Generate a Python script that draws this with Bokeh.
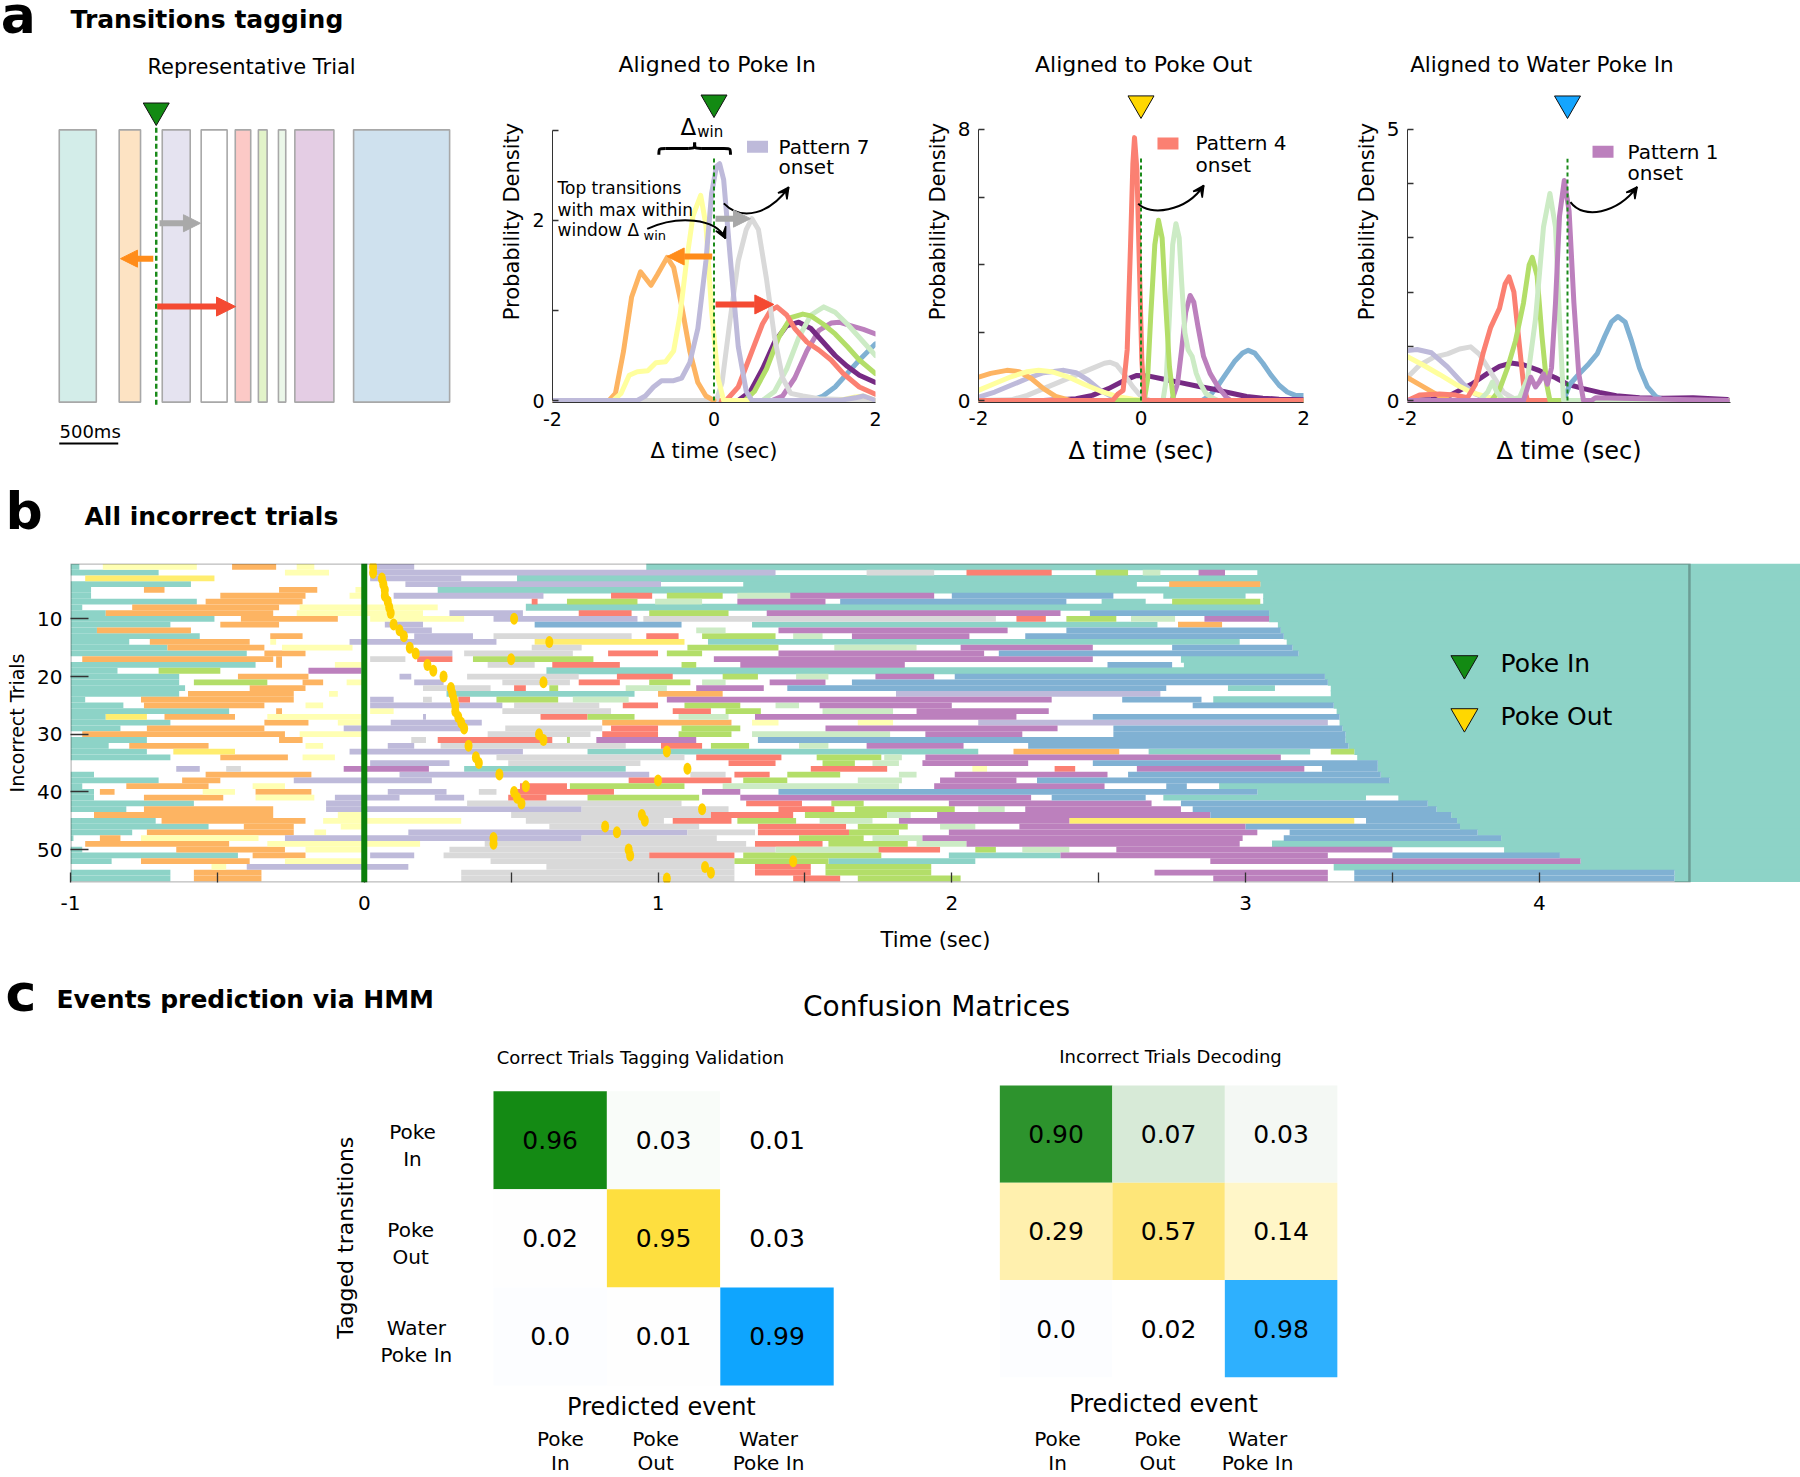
import math
from bokeh.plotting import figure
from bokeh.models import Range1d, FixedTicker, Arrow, NormalHead, VeeHead, Span, BoxAnnotation
from bokeh.layouts import row, column
from bokeh.core.properties import value
from bokeh.embed import file_html
from bokeh.resources import INLINE

FONT = value("DejaVu Sans")

# ======================= DATA =======================
# ---- panel a: representative trial (ms relative to Poke In) ----
rep_pattern_start_ms = [-822, -314, 51, 381, 670, 866, 1036, 1175, 1673]
rep_pattern_end_ms = [-508, -133, 288, 601, 801, 940, 1098, 1506, 2487]
scale_bar_start_ms = -822
scale_bar_ms = 500

# ---- panel a: onset densities, aligned to Poke In (x sec, y density) ----
pin_orange = ([-2.0, -1.30, -1.22, -1.12, -1.02, -0.91, -0.84, -0.78, -0.70, -0.58, -0.50, -0.40, -0.30, -0.20, -0.10, 0.0],
              [0.0, 0.0, 0.08, 0.55, 1.15, 1.43, 1.35, 1.28, 1.40, 1.59, 1.48, 1.05, 0.55, 0.20, 0.05, 0.0])
pin_lyellow = ([-2.0, -1.25, -1.15, -1.05, -0.95, -0.82, -0.72, -0.60, -0.50, -0.42, -0.34, -0.26, -0.165, -0.10, -0.03, 0.05, 0.12, 1.55, 1.75, 1.85, 2.0],
               [0.0, 0.0, 0.08, 0.28, 0.32, 0.33, 0.42, 0.43, 0.55, 0.95, 1.55, 2.05, 2.28, 1.95, 1.0, 0.25, 0.0, 0.0, 0.04, 0.05, 0.0])
pin_lavender = ([-2.0, -0.95, -0.85, -0.75, -0.65, -0.50, -0.40, -0.30, -0.20, -0.10, -0.03, 0.03, 0.07, 0.12, 0.20, 0.30, 0.40, 0.47, 1.55, 1.75, 1.85, 2.0],
                [0.0, 0.0, 0.05, 0.15, 0.22, 0.22, 0.25, 0.42, 0.80, 1.55, 2.30, 2.60, 2.63, 2.45, 1.60, 0.60, 0.10, 0.0, 0.0, 0.03, 0.05, 0.0])
pin_gray = ([-2.0, 0.03, 0.10, 0.20, 0.30, 0.40, 0.47, 0.55, 0.65, 0.75, 0.85, 0.95, 1.10, 1.30, 2.0],
            [0.0, 0.0, 0.20, 0.90, 1.55, 1.90, 2.02, 1.90, 1.35, 0.70, 0.25, 0.08, 0.05, 0.02, 0.0])
pin_salmon = ([-2.0, 0.15, 0.30, 0.45, 0.60, 0.70, 0.78, 0.90, 1.00, 1.15, 1.30, 1.45, 1.60, 1.80, 2.0],
              [0.0, 0.0, 0.15, 0.50, 0.85, 1.00, 1.04, 0.95, 0.80, 0.65, 0.56, 0.45, 0.30, 0.15, 0.07])
pin_dpurple = ([-2.0, 0.30, 0.45, 0.60, 0.75, 0.90, 1.05, 1.20, 1.35, 1.50, 1.65, 1.80, 2.0],
               [0.0, 0.0, 0.10, 0.35, 0.65, 0.83, 0.87, 0.80, 0.65, 0.50, 0.38, 0.28, 0.20])
pin_green = ([-2.0, 0.38, 0.50, 0.65, 0.80, 0.95, 1.10, 1.20, 1.35, 1.50, 1.65, 1.80, 2.0],
             [0.0, 0.0, 0.10, 0.35, 0.70, 0.92, 0.96, 0.94, 0.85, 0.74, 0.60, 0.45, 0.30])
pin_lgreen = ([-2.0, 0.60, 0.75, 0.90, 1.05, 1.20, 1.36, 1.50, 1.65, 1.80, 2.0],
              [0.0, 0.0, 0.10, 0.35, 0.70, 0.95, 1.04, 0.98, 0.85, 0.70, 0.50])
pin_purple = ([-2.0, 0.72, 0.85, 1.00, 1.15, 1.30, 1.45, 1.55, 1.70, 1.85, 2.0],
              [0.0, 0.0, 0.05, 0.25, 0.55, 0.78, 0.86, 0.87, 0.83, 0.79, 0.74])
pin_blue = ([-2.0, 1.20, 1.35, 1.50, 1.65, 1.80, 2.0],
            [0.0, 0.0, 0.05, 0.15, 0.30, 0.45, 0.63])

# ---- aligned to Poke Out ----
pout_salmon = ([-2.0, -0.35, -0.28, -0.22, -0.17, -0.13, -0.10, -0.08, -0.05, -0.02, 0.01, 0.04, 2.0],
               [0.0, 0.0, 0.2, 0.3, 1.5, 4.5, 7.0, 7.76, 6.8, 4.0, 1.2, 0.0, 0.0])
pout_green = ([-2.0, 0.04, 0.08, 0.12, 0.17, 0.215, 0.26, 0.30, 0.35, 0.40, 2.0],
              [0.0, 0.0, 0.6, 2.5, 4.6, 5.32, 4.8, 3.0, 1.0, 0.0, 0.0])
pout_lgreen = ([-2.0, 0.27, 0.31, 0.35, 0.39, 0.43, 0.47, 0.50, 0.54, 0.58, 0.63, 0.68, 0.73, 0.80, 0.90, 0.95, 2.0],
               [0.0, 0.0, 0.6, 2.5, 4.6, 5.22, 4.8, 3.5, 2.0, 1.5, 1.3, 0.8, 0.5, 0.2, 0.05, 0.0, 0.0])
pout_purple = ([-2.0, 0.38, 0.45, 0.50, 0.55, 0.605, 0.65, 0.70, 0.77, 0.85, 0.95, 1.05, 1.10, 2.0],
               [0.0, 0.0, 0.5, 1.5, 2.6, 3.1, 2.9, 2.2, 1.3, 0.8, 0.4, 0.1, 0.0, 0.0])
pout_blue = ([-2.0, 0.75, 0.85, 0.95, 1.05, 1.15, 1.25, 1.32, 1.40, 1.50, 1.60, 1.70, 1.80, 1.90, 2.0],
             [0.0, 0.0, 0.15, 0.45, 0.80, 1.15, 1.40, 1.48, 1.40, 1.10, 0.75, 0.45, 0.25, 0.15, 0.15])
pout_dpurple = ([-2.0, -1.2, -1.0, -0.8, -0.6, -0.4, -0.2, -0.05, 0.1, 0.3, 0.5, 0.7, 0.9, 1.1, 1.3, 1.5, 1.7, 2.0],
                [0.0, 0.0, 0.02, 0.05, 0.15, 0.35, 0.60, 0.74, 0.72, 0.62, 0.52, 0.42, 0.33, 0.22, 0.12, 0.07, 0.04, 0.02])
pout_gray = ([-2.0, -1.6, -1.4, -1.2, -1.0, -0.8, -0.6, -0.45, -0.38, -0.30, -0.20, -0.10, 0.0, 0.11, 2.0],
             [0.0, 0.02, 0.15, 0.35, 0.55, 0.75, 0.95, 1.10, 1.13, 1.05, 0.75, 0.40, 0.12, 0.0, 0.0])
pout_lavender = ([-2.0, -1.8, -1.6, -1.4, -1.2, -0.95, -0.8, -0.65, -0.5, -0.35, -0.22, 2.0],
                 [0.10, 0.25, 0.45, 0.65, 0.82, 0.89, 0.82, 0.60, 0.30, 0.10, 0.0, 0.0])
pout_orange = ([-2.0, -1.85, -1.65, -1.5, -1.35, -1.2, -1.05, -0.87, 2.0],
               [0.69, 0.80, 0.89, 0.85, 0.65, 0.35, 0.12, 0.0, 0.0])
pout_lyellow = ([-2.0, -1.8, -1.6, -1.4, -1.26, -1.1, -0.9, -0.7, -0.5, -0.3, -0.1, 0.03, 2.0],
                [0.30, 0.50, 0.70, 0.85, 0.89, 0.85, 0.70, 0.48, 0.28, 0.12, 0.04, 0.0, 0.0])

# ---- aligned to Water Poke In ----
wat_purple = ([-2.0, -0.55, -0.46, -0.40, -0.35, -0.30, -0.25, -0.20, -0.15, -0.10, -0.04, 0.02, 0.08, 0.14, 0.20, 0.30, 0.35, 2.0],
              [0.0, 0.0, 0.43, 0.25, 0.35, 0.49, 0.30, 0.60, 1.80, 3.40, 4.06, 3.50, 1.80, 0.50, 0.0, 0.0, 0.05, 0.0])
wat_lgreen = ([-2.0, -1.10, -1.00, -0.94, -0.88, -0.80, -0.60, -0.50, -0.40, -0.30, -0.22, -0.15, -0.10, -0.05, 2.0],
              [0.0, 0.0, 0.15, 0.34, 0.15, 0.0, 0.05, 0.40, 1.50, 3.20, 3.82, 3.20, 1.50, 0.0, 0.0])
wat_green = ([-2.0, -0.95, -0.85, -0.75, -0.65, -0.55, -0.48, -0.44, -0.38, -0.32, -0.26, -0.22, 2.0],
             [0.0, 0.0, 0.20, 0.60, 1.10, 1.80, 2.50, 2.64, 2.30, 1.20, 0.30, 0.0, 0.0])
wat_salmon = ([-2.0, -1.85, -1.6, -1.4, -1.25, -1.15, -1.05, -0.96, -0.85, -0.78, -0.73, -0.67, -0.60, -0.55, -0.50, 2.0],
              [0.0, 0.10, 0.12, 0.10, 0.05, 0.30, 0.90, 1.35, 1.70, 2.15, 2.28, 2.00, 1.00, 0.30, 0.0, 0.0])
wat_blue = ([-2.0, -0.05, 0.03, 0.15, 0.25, 0.37, 0.47, 0.55, 0.63, 0.72, 0.80, 0.90, 1.00, 1.10, 1.20, 2.0],
            [0.0, 0.0, 0.30, 0.50, 0.65, 0.86, 1.20, 1.45, 1.55, 1.45, 1.10, 0.60, 0.25, 0.08, 0.0, 0.0])
wat_dpurple = ([-2.0, -1.7, -1.46, -1.2, -1.0, -0.85, -0.71, -0.55, -0.35, -0.15, 0.0, 0.2, 0.4, 0.61, 0.9, 1.2, 1.57, 2.0],
               [0.0, 0.02, 0.10, 0.30, 0.50, 0.63, 0.69, 0.66, 0.55, 0.42, 0.30, 0.22, 0.15, 0.09, 0.05, 0.04, 0.05, 0.02])
wat_gray = ([-2.0, -1.85, -1.67, -1.5, -1.35, -1.21, -1.1, -0.95, -0.8, -0.63, 2.0],
            [0.43, 0.65, 0.80, 0.86, 0.95, 0.99, 0.85, 0.50, 0.15, 0.0, 0.0])
wat_lavender = ([-2.0, -1.88, -1.7, -1.5, -1.3, -1.15, -0.96, 2.0],
                [0.92, 0.94, 0.88, 0.62, 0.30, 0.12, 0.0, 0.0])
wat_lyellow = ([-2.0, -1.8, -1.6, -1.4, -1.2, -1.0, -0.8, -0.7, 2.0],
               [0.81, 0.65, 0.48, 0.30, 0.15, 0.06, 0.01, 0.0, 0.0])
wat_orange = ([-2.0, -1.8, -1.6, -1.46, 2.0],
              [0.42, 0.25, 0.08, 0.0, 0.0])

# ---- panel b: HMM pattern segments per incorrect trial: (trial, start s, end s) ----
trials = list(range(1, 56))
teal_segs = [(1,-1.0,-0.97),(2,-1.0,-0.70),(4,-1.0,-0.59),(4,1.29,2.63),(5,-1.0,-0.93),(6,-1.0,-0.93),(6,2.72,3.00),
             (7,-1.0,-0.57),(7,2.51,2.66),(8,-1.0,-0.96),(9,-1.0,-0.88),(10,-1.0,-0.51),(11,-1.0,-0.66),(11,1.32,2.70),
             (12,-1.0,-0.91),(13,-1.0,-0.56),(14,-1.0,-0.80),(14,1.17,2.98),(15,-1.0,-0.67),(16,-1.0,-0.40),(18,-1.0,-0.37),
             (19,-1.0,-0.84),(20,-1.0,-0.63),(21,-1.0,-0.63),(22,-1.0,-0.61),(22,2.94,3.10),(23,-1.0,-0.63),(23,0.28,0.92),
             (24,-1.0,-0.95),(25,-1.0,-0.82),(26,-1.0,-0.46),(27,-1.0,-0.88),(28,-1.0,-0.66),(29,-1.0,-0.83),(31,-1.0,-0.74),
             (32,-1.0,-0.87),(33,-1.0,-0.74),(33,0.76,2.09),(33,2.67,3.22),(34,-1.0,-0.66),(36,0.34,0.89),(37,-1.0,-0.92),
             (38,-1.0,-0.70),(39,-1.0,-0.96),(40,-1.0,-0.92),(41,-1.0,-0.92),(41,2.72,3.41),(42,-1.0,-0.58),(43,-1.0,-0.81),
             (45,-1.0,-0.71),(46,-1.0,-0.53),(47,-1.0,-0.79),(48,-1.0,-0.99),(50,-1.0,-0.96),(51,-1.0,-0.43),(51,1.99,2.37),
             (52,-1.0,-0.86),(52,1.58,2.08),(54,-1.0,-0.66),(55,-1.0,-0.66)]
orange_segs = [(1,-0.45,-0.30),(4,2.74,3.05),(5,-0.75,-0.68),(5,-0.29,-0.16),(6,-0.49,-0.20),(7,-0.54,-0.21),(8,-0.79,-0.29),
               (9,-0.88,-0.31),(10,-0.42,-0.09),(11,-0.49,-0.29),(11,2.77,2.92),(12,-0.91,-0.59),(13,-0.32,-0.21),
               (14,-0.73,-0.39),(15,-0.67,-0.34),(16,-0.34,-0.20),(17,-0.96,-0.31),(17,-0.30,-0.28),(18,-0.30,-0.28),
               (20,-0.43,-0.19),(21,-0.21,-0.14),(22,-0.39,-0.20),(23,-0.60,-0.24),(23,1.00,1.22),(24,-0.76,-0.24),
               (25,-0.75,-0.34),(26,-0.30,-0.28),(27,-0.68,-0.44),(28,-0.34,-0.19),(28,0.81,1.25),(29,-0.74,-0.34),
               (30,-0.96,-0.27),(31,-0.29,-0.21),(32,-0.80,-0.53),(33,2.21,2.57),(34,-0.49,-0.26),(37,-0.54,-0.18),
               (38,-0.62,-0.49),(39,-0.81,-0.53),(40,-0.90,-0.85),(40,-0.37,-0.18),(41,-0.75,-0.48),(43,-0.75,-0.31),
               (44,-0.92,-0.31),(45,-0.69,-0.20),(46,-0.41,-0.24),(47,-0.74,-0.24),(48,-0.90,-0.83),(49,-0.95,-0.46),
               (50,-0.64,-0.27),(51,-0.38,-0.20),(52,-0.76,-0.39),(54,-0.58,-0.35),(55,-0.58,-0.35)]
lyellow_segs = [(1,-0.89,-0.57),(1,-0.23,-0.17),(2,-0.27,-0.12),(5,-0.03,0.0),(6,-0.05,0.0),(8,-0.22,0.25),(9,-0.23,0.20),
                (10,0.02,0.34),(14,-0.32,-0.30),(15,-0.28,-0.04),(18,-0.10,-0.01),(21,-0.06,0.0),(23,-0.12,-0.09),
                (25,-0.20,-0.14),(26,0.02,0.10),(27,-0.33,-0.01),(28,-0.09,-0.01),(28,1.32,1.41),(28,1.68,1.80),
                (30,-0.22,-0.01),(32,-0.20,-0.14),(34,-0.21,-0.10),(36,2.07,2.12),(39,-0.38,-0.27),(40,-0.55,-0.44),
                (41,-0.37,-0.17),(44,-0.09,-0.01),(45,-0.14,0.33),(46,-0.08,0.0),(47,-0.17,-0.13),(48,-0.76,-0.36),
                (49,-0.33,0.19),(50,-0.20,0.0),(52,-0.27,-0.01),(53,-0.52,-0.47)]
yellow_segs = [(3,-0.95,-0.51),(14,0.58,1.09),(27,-0.88,-0.74),(33,-0.65,-0.44),(45,2.40,3.37)]
lavender_segs = [(1,0.02,0.17),(2,0.02,1.40),(3,0.02,0.33),(4,0.14,1.01),(6,0.10,0.61),(9,0.29,0.54),(10,0.44,0.93),
                 (11,0.07,0.20),(12,0.12,0.23),(13,0.17,0.37),(14,-0.05,0.45),(16,0.18,0.30),(20,0.12,0.16),(21,0.17,0.27),
                 (23,1.81,2.71),(24,0.02,0.10),(25,0.02,0.47),(27,0.20,0.21),(28,0.09,0.40),(28,2.09,3.28),(29,-0.07,0.34),
                 (32,0.08,0.17),(33,-0.05,0.54),(35,0.02,0.29),(36,-0.64,-0.56),(37,0.12,0.97),(38,-0.24,0.23),(40,0.08,0.28),
                 (41,-0.10,0.12),(41,0.24,0.34),(42,-0.13,0.0),(43,-0.13,0.74),(47,0.15,1.10),(48,-0.27,0.74),(51,0.02,0.17),
                 (53,-0.40,0.15)]
gray_segs = [(2,1.71,1.94),(10,0.95,2.15),(13,0.44,0.91),(15,0.57,0.74),(16,0.34,0.71),(17,0.02,0.14),(18,0.42,0.58),
             (20,0.35,0.73),(21,0.47,0.70),(22,0.20,0.43),(24,0.20,0.23),(25,0.51,0.80),(26,0.47,0.84),(29,0.48,0.81),
             (30,0.42,0.77),(31,0.16,0.21),(32,0.26,0.89),(34,0.45,1.09),(35,0.49,0.94),(36,-0.47,-0.42),(37,1.11,1.23),
             (40,0.39,0.45),(42,0.35,1.08),(43,0.74,1.24),(44,0.50,1.18),(45,0.55,1.02),(46,0.63,1.14),(47,1.10,1.33),
             (48,0.74,1.20),(49,0.41,1.30),(50,0.29,1.40),(51,0.27,0.97),(52,0.43,1.26),(53,0.62,1.26),(54,0.33,1.26),
             (55,0.33,1.26)]
salmon_segs = [(2,2.05,2.34),(6,0.84,0.98),(7,0.57,0.59),(9,0.73,0.91),(10,2.22,2.32),(13,0.96,1.07),(16,0.83,1.00),
               (17,0.18,0.30),(18,0.64,0.87),(20,0.86,1.05),(21,0.73,0.87),(22,0.51,0.55),(24,0.32,0.36),(25,0.88,1.00),
               (26,1.05,1.18),(27,0.60,0.76),(29,0.84,1.00),(30,0.81,1.00),(31,0.25,0.64),(32,1.01,1.15),(34,1.13,1.42),
               (35,1.24,1.40),(36,1.52,1.78),(36,2.35,2.42),(37,1.26,1.38),(38,0.90,1.25),(39,0.53,0.69),(40,0.51,0.85),
               (41,0.49,0.62),(42,1.30,1.49),(43,1.41,1.60),(44,1.18,1.46),(45,1.05,1.25),(46,1.34,1.64),(47,1.34,1.65),
               (49,1.33,1.56),(50,1.75,1.96),(51,0.97,1.26),(53,1.33,1.52),(54,1.33,1.52),(55,1.46,1.62)]
green_segs = [(2,2.49,2.60),(6,1.03,1.22),(7,0.69,0.93),(7,2.75,3.05),(9,0.97,1.24),(10,2.39,2.56),(13,1.15,1.40),
              (15,1.10,1.41),(16,1.03,1.15),(17,0.37,0.78),(18,1.08,1.13),(19,-0.70,-0.49),(20,1.22,1.34),(21,-0.58,-0.33),
              (21,0.97,1.11),(22,0.63,0.66),(24,0.45,0.66),(25,1.09,1.28),(26,1.23,1.35),(27,0.76,0.92),(29,1.08,1.28),
              (30,1.07,1.25),(31,0.69,0.70),(32,1.18,1.31),(33,3.29,3.37),(34,1.54,1.76),(35,1.56,1.67),(37,1.44,1.62),
              (38,1.29,1.44),(39,0.70,1.09),(41,0.76,1.14),(42,1.59,1.70),(43,1.67,2.01),(44,1.50,1.78),(45,1.27,1.47),
              (46,1.68,1.85),(47,1.65,1.82),(48,1.48,1.70),(49,1.58,1.85),(50,2.08,2.15),(51,1.29,1.76),(52,1.26,1.58),
              (53,1.57,1.93),(54,1.57,1.93),(55,1.68,2.03)]
lgreen_segs = [(2,2.65,2.71),(6,1.27,1.45),(7,0.99,1.15),(10,2.61,2.76),(12,1.13,1.23),(13,1.46,1.56),(15,1.60,1.88),
               (20,1.47,1.58),(21,1.15,1.23),(22,0.89,1.03),(24,0.71,0.90),(25,1.40,1.48),(26,1.56,1.80),(27,1.07,1.24),
               (30,1.32,1.79),(32,1.48,1.58),(34,1.77,1.83),(35,1.73,1.82),(37,1.82,1.88),(38,1.68,1.83),(39,1.22,1.82),
               (43,2.09,2.18),(44,1.78,1.86),(45,1.55,1.73),(46,1.96,2.08),(48,1.73,1.90),(49,1.88,2.05),(50,1.40,1.75),
               (50,2.24,2.40)]
purple_segs = [(2,2.84,2.93),(6,1.45,1.94),(7,1.27,1.57),(9,1.37,2.37),(10,2.86,3.08),(12,1.41,2.19),(13,1.66,2.06),
               (15,2.03,2.48),(16,1.41,2.11),(17,1.19,2.48),(18,1.28,1.84),(19,-0.19,-0.01),(20,1.74,1.94),(21,1.38,1.57),
               (22,1.13,1.36),(24,1.03,2.34),(25,1.55,2.00),(26,1.88,2.33),(27,1.33,2.22),(29,1.57,2.36),(30,1.91,2.24),
               (31,0.79,1.13),(32,1.71,2.04),(34,1.91,3.12),(35,1.90,2.26),(36,-0.07,0.22),(36,2.63,3.20),(37,2.01,2.53),
               (38,1.96,2.22),(39,1.94,2.52),(40,1.15,1.28),(41,1.28,2.27),(42,1.99,2.68),(43,2.25,2.78),(44,1.95,2.88),
               (45,1.82,2.40),(46,2.23,3.00),(47,1.99,3.04),(48,1.90,2.99),(49,2.05,2.98),(50,2.56,3.50),(51,2.37,3.28),
               (52,2.88,4.14),(54,2.69,3.28),(55,2.89,3.28)]
blue_segs = [(6,2.00,2.55),(7,1.62,2.39),(9,2.47,3.08),(11,0.58,1.08),(12,2.39,3.12),(13,2.25,3.13),(15,2.75,3.16),
             (16,2.16,3.18),(18,2.53,2.75),(20,2.01,3.27),(21,1.66,3.28),(22,1.44,2.73),(24,2.58,2.85),(25,2.82,3.30),
             (27,2.48,3.32),(29,2.55,3.33),(30,2.55,3.34),(31,1.34,3.34),(32,2.26,3.35),(35,2.48,3.45),(36,3.26,3.45),
             (37,2.60,3.46),(38,2.29,3.49),(39,2.73,2.80),(40,1.41,3.04),(41,2.34,2.66),(42,2.78,3.62),(43,2.82,3.65),
             (44,2.88,3.70),(45,3.41,3.72),(46,3.00,3.73),(47,3.15,3.79),(48,3.13,3.87),(51,3.50,4.07),(54,3.37,4.46),
             (55,3.37,4.46)]
trial_end_s = [0.96, 3.04, 0.52, 3.05, 0.25, 3.06, 3.06, 0.55, 3.08, 3.08, 3.11, 3.12, 3.13, 3.14, 3.16, 3.18, 2.78,
               2.79, 0.62, 3.27, 3.28, 3.29, 3.29, 2.89, 3.30, 3.31, 3.32, 3.32, 3.33, 3.34, 3.34, 3.35, 3.37, 3.38,
               3.45, 3.45, 3.46, 3.49, 2.91, 3.04, 3.52, 3.62, 3.65, 3.70, 3.72, 3.73, 3.79, 3.87, 3.09, 3.88, 4.07,
               4.14, 3.30, 4.46, 4.46]
poke_out_s = [0.03, 0.03, 0.06, 0.065, 0.07, 0.07, 0.08, 0.085, 0.09, 0.51, 0.10, 0.12, 0.135, 0.63, 0.155, 0.175,
              0.50, 0.215, 0.235, 0.27, 0.61, 0.295, 0.30, 0.305, 0.31, 0.31, 0.32, 0.33, 0.34, 0.595, 0.61, 0.355,
              1.03, 0.38, 0.39, 1.10, 0.46, 1.00, 0.55, 0.51, 0.52, 0.535, 1.15, 0.945, 0.955, 0.82, 0.86, 0.44,
              0.44, 0.90, 0.905, 1.46, 1.16, 1.18, 1.03]
raster_xticks = [-1, 0, 1, 2, 3, 4]
raster_xminor = [-0.5, 0.5, 1.5, 2.5, 3.5]
raster_yticks = [10, 20, 30, 40, 50]

# ---- panel c: confusion matrices ----
event_names = ["Poke In", "Poke Out", "Water Poke In"]
correct_cm = [[0.96, 0.03, 0.01], [0.02, 0.95, 0.03], [0.0, 0.01, 0.99]]
incorrect_cm = [[0.90, 0.07, 0.03], [0.29, 0.57, 0.14], [0.0, 0.02, 0.98]]

# ======================= STYLES =======================
TEAL = "#8dd3c7"; LYEL = "#ffffb3"; LAV = "#bebada"; SAL = "#fb8072"; BLUE = "#80b1d3"
ORA = "#fdb462"; GRN = "#b3de69"; GRAY = "#d9d9d9"; PUR = "#bc80bd"; LGRN = "#ccebc5"
YEL = "#ffed6f"; DPUR = "#762a83"; LINE_YEL = "#ffff9e"
rep_fill = ["#d3ede9", "#fde3c3", "#e5e3f0", "#ffffff", "#fcc9c6", "#e2f3c9", "#ebf7e9", "#e4cde4", "#cfe1ee"]
correct_colors = [["#148a14", "#f9fcf9", "#ffffff"], ["#fefefe", "#fedf3f", "#ffffff"], ["#fcfdff", "#fefefe", "#0fa5fe"]]
incorrect_colors = [["#2d932d", "#d7ead7", "#f4f8f4"], ["#fff0ae", "#fee679", "#fff6c8"], ["#fcfdff", "#ffffff", "#2eb0fe"]]


def txt(p, x, y, s, size, align="left", style="normal", angle=0.0):
    p.text(x=[x], y=[y], text=[s], text_font=FONT, text_font_size=f"{size}px", text_align=align,
           text_baseline="middle", text_font_style=style, angle=angle, text_color="black")


def blank_fig(w, h, xr, yr):
    p = figure(width=w, height=h, x_range=Range1d(*xr), y_range=Range1d(*yr), x_axis_location=None,
               y_axis_location=None, output_backend="svg", toolbar_location=None, min_border=0)
    p.grid.visible = False
    p.outline_line_color = None
    p.background_fill_color = "white"
    p.border_fill_color = "white"
    return p


def style_axis(ax, ticks, minor, tick_in, font_px, label_px, standoff, label_standoff, bounds=None, line=True,
               overrides=None):
    ax.ticker = FixedTicker(ticks=ticks, minor_ticks=minor)
    ax.major_tick_in = tick_in; ax.major_tick_out = 0
    ax.minor_tick_in = tick_in; ax.minor_tick_out = 0
    ax.major_label_text_font = "DejaVu Sans"; ax.major_label_text_font_size = f"{font_px}px"
    ax.axis_label_text_font = "DejaVu Sans"; ax.axis_label_text_font_size = f"{label_px}px"
    ax.axis_label_text_font_style = "normal"
    ax.major_label_standoff = standoff; ax.axis_label_standoff = label_standoff
    ax.axis_line_color = "#333333" if line else None
    ax.major_tick_line_color = "#333333"; ax.minor_tick_line_color = "#333333"
    ax.major_tick_line_width = 1.3; ax.minor_tick_line_width = 1.3
    ax.major_label_text_color = "black"; ax.axis_label_text_color = "black"
    if overrides:
        ax.major_label_overrides = overrides
    if bounds is not None:
        ax.bounds = bounds


def curved_arrow(p, x0, y0, cx0, cy0, cx1, cy1, x1, y1):
    p.bezier(x0=[x0], y0=[y0], x1=[x1], y1=[y1], cx0=[cx0], cy0=[cy0], cx1=[cx1], cy1=[cy1],
             line_color="black", line_width=2)
    hx = x1 - 0.05 * (x1 - cx1); hy = y1 - 0.05 * (y1 - cy1)
    p.add_layout(Arrow(end=VeeHead(size=11, fill_color="black", line_color="black", line_width=1.5),
                       x_start=hx, y_start=hy, x_end=x1, y_end=y1, line_color="black", line_width=2))


def block_arrow(p, xs, xe, y, col, size, lw):
    p.add_layout(Arrow(end=NormalHead(size=size, fill_color=col, line_color=col),
                       x_start=xs, y_start=y, x_end=xe, y_end=y, line_color=col, line_width=lw))


def kde_fig(width, left, right, xr, yr, xticks, yticks, yminor, tick_px, xlab_px, ybounds, xstand, xlabstand):
    p = figure(width=width, height=470, x_range=Range1d(*xr), y_range=Range1d(*yr),
               output_backend="svg", toolbar_location=None, min_border_left=left, min_border_right=right,
               min_border_top=40, min_border_bottom=68, x_axis_label="Δ time (sec)",
               y_axis_label="Probability Density")
    p.grid.visible = False
    p.outline_line_color = None
    style_axis(p.xaxis[0], xticks, [], 0, tick_px, xlab_px, xstand, xlabstand, bounds=(xr[0], xr[1]),
               overrides={-2: "-2"})
    style_axis(p.yaxis[0], yticks, yminor, 6, tick_px, 21, 8, 5, bounds=ybounds)
    return p


def draw_curves(p, items):
    for (xs, ys), col in items:
        p.line(xs, ys, line_color=col, line_width=5, line_join="round", line_cap="round")


# ======================= PANEL a =======================
rep = blank_fig(470, 470, (-1320, 2664), (-0.251, 1.475))
rep.quad(left=rep_pattern_start_ms, right=rep_pattern_end_ms, bottom=0, top=1, fill_color=rep_fill,
         line_color="#a8a8a8", line_width=1.6)
rep.segment(x0=[0], y0=[-0.01], x1=[0], y1=[1.01], line_color="#1a8a1a", line_width=2.5, line_dash="5 3")
rep.scatter(x=[0], y=[1.071], marker="inverted_triangle", size=26, fill_color="#138a13", line_color="#111111",
            line_width=1)
block_arrow(rep, 28, 375, 0.657, "#a9a9a9", 17, 6)
block_arrow(rep, -25, -303, 0.527, "#ff8c1a", 17, 6)
block_arrow(rep, 8, 672, 0.351, "#f44a32", 19, 6)
rep.segment(x0=[scale_bar_start_ms], y0=[-0.152], x1=[scale_bar_start_ms + scale_bar_ms], y1=[-0.152],
            line_color="black", line_width=2)
txt(rep, -820, -0.108, "500ms", 18)
txt(rep, -1318, 1.423, "a", 52, style="bold")          # page y 14
txt(rep, -726, 1.405, "Transitions tagging", 25, style="bold")   # page y 19
txt(rep, 808, 1.232, "Representative Trial", 21, align="center")

# -- aligned to Poke In --
pin = kde_fig(440, 82, 35, (-2, 2), (-0.022, 3.999), [-2, 0, 2], [0, 2], [1, 3], 19, 21, (0, 3), 9, 10)
draw_curves(pin, [(pin_blue, BLUE), (pin_purple, PUR), (pin_dpurple, DPUR), (pin_lgreen, LGRN), (pin_green, GRN),
                  (pin_salmon, SAL), (pin_gray, GRAY), (pin_orange, ORA), (pin_lyellow, LINE_YEL),
                  (pin_lavender, LAV)])
pin.segment(x0=[0], y0=[0], x1=[0], y1=[2.72], line_color="#1a8a1a", line_width=2, line_dash="4 3")
txt(pin, 0.04, 3.73, "Aligned to Poke In", 22, align="center")
pin.scatter(x=[0], y=[3.31], marker="inverted_triangle", size=26, fill_color="#138a13", line_color="#111111",
            line_width=1)
txt(pin, -0.316, 3.04, "Δ", 23, align="center")
txt(pin, -0.208, 2.98, "win", 15)
# brace over the window
bx0, bxm, bx1, byb, byh, byt = -0.683, -0.24, 0.204, 2.73, 2.80, 2.865
pin.bezier(x0=[bx0, bxm - 0.08, bxm + 0.08, bx1], y0=[byb, byh, byh, byb],
           x1=[bx0 + 0.08, bxm, bxm, bx1 - 0.08], y1=[byh, byt, byt, byh],
           cx0=[bx0, bxm, bxm, bx1], cy0=[byh, byh, byh, byh],
           cx1=[bx0, bxm, bxm, bx1], cy1=[byh, byh, byh, byh], line_color="black", line_width=3)
pin.multi_line(xs=[[bx0 + 0.08, bxm - 0.08], [bxm + 0.08, bx1 - 0.08]], ys=[[byh, byh], [byh, byh]],
               line_color="black", line_width=3)
pin.rect(x=[0.539], y=[2.82], width=21, height=12, width_units="screen", height_units="screen",
         fill_color=LAV, line_color=None)
txt(pin, 0.799, 2.82, "Pattern 7", 20)
txt(pin, 0.799, 2.59, "onset", 20)
txt(pin, -1.938, 2.356, "Top transitions", 17)
txt(pin, -1.938, 2.111, "with max within", 17)
txt(pin, -1.938, 1.889, "window Δ", 17)
txt(pin, -0.873, 1.833, "win", 13)
block_arrow(pin, 0.019, 0.452, 2.02, "#a8a8a8", 17, 6)
block_arrow(pin, -0.022, -0.58, 1.60, "#ff8c1a", 17, 6)
block_arrow(pin, 0.019, 0.741, 1.067, "#f44a32", 19, 6)
curved_arrow(pin, 0.121, 2.19, 0.35, 1.98, 0.70, 2.08, 0.926, 2.37)
curved_arrow(pin, -0.827, 1.907, -0.45, 2.06, 0.02, 2.03, 0.142, 1.80)

# -- aligned to Poke Out --
pout = kde_fig(440, 68, 47, (-2, 2), (-0.059, 10.627), [-2, 0, 2], [0, 8], [2, 4, 6], 20, 24, (0, 8), 8, 9)
draw_curves(pout, [(pout_blue, BLUE), (pout_dpurple, DPUR), (pout_gray, GRAY), (pout_lavender, LAV),
                   (pout_orange, ORA), (pout_lyellow, LINE_YEL), (pout_purple, PUR), (pout_lgreen, LGRN),
                   (pout_green, GRN), (pout_salmon, SAL)])
pout.segment(x0=[0], y0=[0], x1=[0], y1=[7.17], line_color="#1a8a1a", line_width=2, line_dash="4 3")
txt(pout, 0.031, 9.92, "Aligned to Poke Out", 22, align="center")
pout.scatter(x=[0], y=[8.77], marker="inverted_triangle", size=26, fill_color="#ffd700", line_color="#111111",
             line_width=1)
pout.rect(x=[0.332], y=[7.59], width=21, height=12, width_units="screen", height_units="screen",
          fill_color=SAL, line_color=None)
txt(pout, 0.671, 7.59, "Pattern 4", 20)
txt(pout, 0.671, 6.94, "onset", 20)
curved_arrow(pout, -0.034, 5.81, 0.10, 5.45, 0.55, 5.55, 0.773, 6.35)

# -- aligned to Water Poke In --
wat = kde_fig(450, 57, 70, (-2, 2.0375), (-0.0369, 6.642), [-2, 0], [0, 5], [1, 2, 3, 4], 20, 24, (0, 5), 8, 9)
draw_curves(wat, [(wat_dpurple, DPUR), (wat_gray, GRAY), (wat_lavender, LAV), (wat_orange, ORA),
                  (wat_lyellow, LINE_YEL), (wat_blue, BLUE), (wat_salmon, SAL), (wat_green, GRN),
                  (wat_lgreen, LGRN), (wat_purple, PUR)])
wat.segment(x0=[0], y0=[0], x1=[0], y1=[4.46], line_color="#1a8a1a", line_width=2, line_dash="4 3")
txt(wat, -0.32, 6.2, "Aligned to Water Poke In", 21.5, align="center")
wat.scatter(x=[0], y=[5.48], marker="inverted_triangle", size=26, fill_color="#14a5ff", line_color="#111111",
            line_width=1)
wat.rect(x=[0.444], y=[4.59], width=21, height=12, width_units="screen", height_units="screen",
         fill_color=PUR, line_color=None)
txt(wat, 0.75, 4.58, "Pattern 1", 20)
txt(wat, 0.75, 4.19, "onset", 20)
curved_arrow(wat, 0.037, 3.66, 0.20, 3.33, 0.62, 3.45, 0.871, 3.94)

# ======================= PANEL b =======================
head_b = blank_fig(1800, 88, (0, 1800), (558, 470))
txt(head_b, 5, 510, "b", 52, style="bold")
txt(head_b, 84, 516, "All incorrect trials", 25, style="bold")

raster = figure(width=1800, height=402, x_range=Range1d(-1.0, 4.889), y_range=Range1d(55.7, 0.41),
                output_backend="svg", toolbar_location=None, min_border_left=70, min_border_right=0,
                min_border_top=5, min_border_bottom=78, x_axis_label="Time (sec)", y_axis_label="Incorrect Trials")
raster.grid.visible = False
raster.outline_line_color = None
style_axis(raster.xaxis[0], raster_xticks, raster_xminor, 10, 20, 21, 13, 15, line=False, overrides={-1: "-1"})
style_axis(raster.yaxis[0], raster_yticks, [], 18, 20, 19, 8, 6, line=False)

raster.quad(left=trial_end_s, right=[5.0] * len(trials), top=[t - 0.6 for t in trials],
            bottom=[t + 0.6 for t in trials], fill_color=TEAL, line_color=None)
for segs, col in [(teal_segs, TEAL), (orange_segs, ORA), (lyellow_segs, LYEL), (yellow_segs, YEL),
                  (lavender_segs, LAV), (gray_segs, GRAY), (salmon_segs, SAL), (green_segs, GRN),
                  (lgreen_segs, LGRN), (purple_segs, PUR), (blue_segs, BLUE)]:
    raster.quad(left=[s[1] for s in segs], right=[s[2] for s in segs], top=[s[0] - 0.5 for s in segs],
                bottom=[s[0] + 0.5 for s in segs], fill_color=col, line_color=None)
raster.add_layout(Span(location=0, dimension="height", line_color="#0a7f0a", line_width=6))
raster.ellipse(x=poke_out_s, y=trials, width=8, height=12, width_units="screen", height_units="screen",
               fill_color="#ffd000", line_color=None)
raster.add_layout(BoxAnnotation(left=-1.0, right=4.511, top=0.41, bottom=55.7, fill_color=None, fill_alpha=0,
                                line_color="#222222", line_width=2.5))
raster.scatter(x=[3.745, 3.745], y=[17.74, 26.93], marker="inverted_triangle", size=27,
               fill_color=["#138a13", "#ffd700"], line_color="#111111", line_width=1)
txt(raster, 3.868, 17.74, "Poke In", 25)
txt(raster, 3.868, 26.93, "Poke Out", 25)

# ======================= PANEL c =======================
head_c = blank_fig(1800, 80, (0, 1800), (1040, 960))
txt(head_c, 5, 992, "c", 52, style="bold")
txt(head_c, 56, 999, "Events prediction via HMM", 25, style="bold")
txt(head_c, 936, 1006, "Confusion Matrices", 28, align="center")


def fmt(v):
    return "0.0" if v == 0 else f"{v:.2f}"


def two_lines(name):
    return ["Water", "Poke In"] if name == "Water Poke In" else name.split(" ")


def matrix_fig(xr, yr, cm, colors, title, title_xy, pe_xy, col_x, col_y):
    p = blank_fig(900, 435, xr, yr)
    left, right, top, bottom, fills, xs, ys, labels = [], [], [], [], [], [], [], []
    for i in range(3):
        for j in range(3):
            left.append(j); right.append(j + 1); top.append(i); bottom.append(i + 1)
            fills.append(colors[i][j]); xs.append(j + 0.5); ys.append(i + 0.5); labels.append(fmt(cm[i][j]))
    p.quad(left=left, right=right, top=top, bottom=bottom, fill_color=fills, line_color=None)
    p.text(x=xs, y=ys, text=labels, text_font=FONT, text_font_size="25px", text_align="center",
           text_baseline="middle", text_color="black")
    txt(p, title_xy[0], title_xy[1], title, 18, align="center")
    txt(p, pe_xy[0], pe_xy[1], "Predicted event", 24, align="center")
    for k, name in enumerate(event_names):
        parts = two_lines(name)
        txt(p, col_x[k], col_y[0], parts[0], 20, align="center")
        txt(p, col_x[k], col_y[1], parts[1], 20, align="center")
    return p


# cm1: cells start at page x 493, rows at page y 1090.7 (113.4 x 98.1 px per cell)
cm1 = matrix_fig((-4.347, 3.589), (3.917, -0.517), correct_cm, correct_colors, "Correct Trials Tagging Validation",
                 (1.296, -0.344), (1.481, 3.215), [0.59, 1.43, 2.425], [3.55, 3.785])
row_lab_x = [-0.714, -0.73, -0.68]
for i, name in enumerate(event_names):
    parts = two_lines(name)
    txt(cm1, row_lab_x[i], i + 0.411, parts[0], 20, align="center")
    txt(cm1, row_lab_x[i], i + 0.69, parts[1], 20, align="center")
txt(cm1, -1.305, 1.493, "Tagged transitions", 22, align="center", angle=math.pi / 2)

# cm2: cells start at page x 999.3, rows at page y 1085 (112.5 x 97.2 px per cell)
cm2 = matrix_fig((-0.883, 7.117), (4.012, -0.463), incorrect_cm, incorrect_colors, "Incorrect Trials Decoding",
                 (1.517, -0.298), (1.455, 3.272), [0.513, 1.402, 2.291], [3.632, 3.879])

layout = column(row(column(rep), pin, pout, wat), row(head_b), row(raster), row(head_c), row(cm1, cm2))
open("out.html", "w").write(file_html(layout, INLINE))
